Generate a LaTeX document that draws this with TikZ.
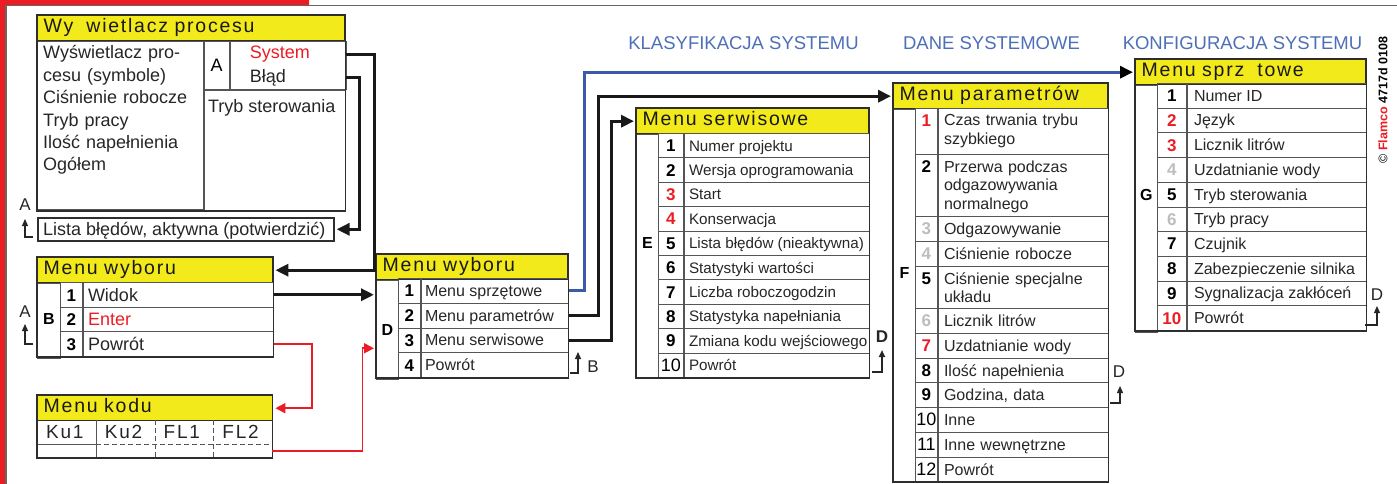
\documentclass[tikz,border=0pt]{standalone}
\usepackage{fontspec}
\setmainfont{Liberation Sans}
\newfontfamily\hdfont[LetterSpace=9]{Liberation Sans}
\usetikzlibrary{arrows.meta,positioning,calc}

\definecolor{hdyel}{HTML}{F3EA1B}
\definecolor{flred}{HTML}{EC1C24}
\definecolor{flblue}{HTML}{3B5BA9}
\definecolor{lblue}{HTML}{4D6FB6}
\definecolor{ngray}{HTML}{BDBDBD}
\definecolor{frmc}{HTML}{2E2E2E}
\definecolor{gridc}{HTML}{555555}

\tikzset{
  hd/.style={draw=frmc,line width=1.4pt,fill=hdyel,anchor=north west,inner xsep=6pt,inner ysep=0pt,
    minimum width=#1,text width={#1-12pt},align=left,minimum height=25pt,text height=13.5pt,text depth=4pt,
    font=\hdfont\fontsize{19.5}{20}\selectfont,text=black!90},
  cel/.style={draw=gridc,line width=0.8pt,anchor=north west,inner sep=0pt},
  box/.style={draw=frmc,line width=1.6pt},
  txt/.style={anchor=base west,inner sep=0pt,text=black!85,font=\fontsize{16}{18.5}\selectfont},
  big/.style={font=\fontsize{18}{22.4}\selectfont},
  nr/.style={anchor=base,inner sep=0pt,font=\bfseries\fontsize{17}{18}\selectfont},
  ltr/.style={inner sep=0pt,font=\bfseries\fontsize{16}{18}\selectfont},
  mk/.style={inner sep=0pt,font=\fontsize{17}{18}\selectfont,text=black!85},
  ret/.style={draw=black!85,line width=1.3pt,-{Triangle[length=7pt,width=6pt]}},
  conn/.style={draw=black!90,line width=3.2pt,-{Triangle[length=13pt,width=12pt]},shorten >=2pt},
  bconn/.style={draw=flblue,line width=3pt,-{Triangle[length=13pt,width=12pt,black]},shorten >=2pt},
  rconn/.style={draw=flred,line width=1.8pt,-{Triangle[length=10pt,width=10pt]},shorten >=2pt},
  lbl/.style={text=lblue,font=\fontsize{18.5}{20}\selectfont},
}

\begin{document}
\begin{tikzpicture}[x=1pt,y=-1pt]
\useasboundingbox (0,0) rectangle (1397,484);
\fill[flred] (0,0) rectangle (6,484) (0,0) rectangle (309,5);
\draw[gray!80!black,line width=1.2pt] (6,484) -- (6,5.5) -- (1397,5.5);

% process display
\node[hd=307pt] (pdh) at (37,15) {Wy\ \ wietlacz procesu};
\node[cel,minimum width=166pt,minimum height=168pt] (pdl) at (pdh.south west) {};
\node[cel,minimum width=25pt,minimum height=48pt,font=\fontsize{18}{20}\selectfont] (pda) at (pdl.north east) {A};
\node[cel,minimum width=116pt,minimum height=48pt] (pds) at (pda.north east) {};
\node[cel,minimum width=141pt,minimum height=120pt] (pdt) at (pda.south west) {};
\node[txt,big,text width=160pt,align=left] at ($(pdl.north west)+(6,17.5)$) {Wyświetlacz pro-\\cesu (symbole)\\Ciśnienie robocze\\Tryb pracy\\Ilość napełnienia\\Ogółem};
\node[txt,big,text=flred] (sys) at ($(pds.north west)+(20,17.5)$) {System};
\node[txt,big] (err) at ($(pds.north west)+(20,41)$) {Błąd};
\node[txt,big] at ($(pdt.north west)+(4,22)$) {Tryb sterowania};
\draw[box] (pdh.north west) rectangle (pdt.south east);

\node[cel,box,minimum width=296pt,minimum height=23pt] (lst) at (37,217) {};
\node[txt,big] at ($(lst.west)+(6,6.5)$) {Lista błędów, aktywna (potwierdzić)};

% menu wyboru (1)
\node[hd=235pt] (wah) at (37,257) {Menu wyboru};
\node[cel,minimum width=23pt,minimum height=74.1pt] (wab) at (wah.south west) {};
\foreach \lab [count=\i] in {Widok,\textcolor{flred}{Enter},Powrót}{
  \node[cel,minimum width=22pt,minimum height=24.7pt] (wan\i) at (60,{282+24.7*(\i-1)}) {};
  \node[cel,minimum width=190pt,minimum height=24.7pt] (wa\i) at (wan\i.north east) {};
  \node[nr] at ($(wan\i.center)+(0,6.5)$) {\i};
  \node[txt,big] at ($(wa\i.west)+(5,6.5)$) {\lab};
}
\node[ltr] at (wab.center |- wa2) {B};
\draw[box] (wah.north west) rectangle (wa3.south east);

% menu kodu
\node[hd=235pt] (kdh) at (37,395) {Menu kodu};
\foreach \lab [count=\i] in {Ku1,Ku2,FL1,FL2}{
  \node[anchor=north west,inner sep=0pt,minimum width=58.75pt,minimum height=24pt] (kd\i) at ({37+58.75*(\i-1)},420) {};
  \node[txt,font=\hdfont\fontsize{19}{20}\selectfont] at ($(kd\i.west)+(9,6.5)$) {\lab};
}
\node[anchor=north west,inner sep=0pt,minimum width=235pt,minimum height=13pt] (kr2) at (kd1.south west) {};
\draw[gridc,line width=.8pt] (kd1.north east) -- (kd1.north east |- kr2.south) (kd1.south west) -- (kd1.south east);
\draw[gridc,line width=.8pt,dash pattern=on 5pt off 3pt] (kd2.north east) -- (kd2.north east |- kr2.south)
  (kd3.north east) -- (kd3.north east |- kr2.south) (kd2.south west) -- (kd4.south east);
\draw[box] (kdh.north west) rectangle (kr2.south east);

% menu wyboru (2)
\node[hd=191pt] (wbh) at (376,254) {Menu wyboru};
\node[cel,minimum width=22pt,minimum height=99pt] (wbd) at (wbh.south west) {};
\foreach \lab [count=\i] in {Menu sprzętowe,Menu parametrów,Menu serwisowe,Powrót}{
  \node[cel,minimum width=22pt,minimum height=24.75pt] (wbn\i) at (398,{278+24.75*(\i-1)}) {};
  \node[cel,minimum width=147pt,minimum height=24.75pt] (wb\i) at (wbn\i.north east) {};
  \node[nr] at ($(wbn\i.center)+(0,6)$) {\i};
  \node[txt] at ($(wb\i.west)+(4,5.5)$) {\lab};
}
\node[ltr] at (wbd.center) {D};
\draw[box] (wbh.north west) rectangle (wb4.south east);

% menu serwisowe
\node[hd=232pt] (svh) at (636,108) {Menu serwisowe};
\node[cel,minimum width=22pt,minimum height=244pt] (sve) at (svh.south west) {};
\foreach \no/\cl/\lab [count=\i] in {1/black/Numer projektu, 2/black/Wersja oprogramowania, 3/flred/Start,
    4/flred/Konserwacja, 5/black/{Lista błędów (nieaktywna)}, 6/black/Statystyki wartości,
    7/black/Liczba roboczogodzin, 8/black/Statystyka napełniania, 9/black/Zmiana kodu wejściowego,
    {\mdseries\fontsize{18}{18}\selectfont 10}/black/Powrót}{
  \node[cel,minimum width=25pt,minimum height=24.4pt] (svn\i) at (658,{133+24.4*(\i-1)}) {};
  \node[cel,minimum width=185pt,minimum height=24.4pt] (sv\i) at (svn\i.north east) {};
  \node[nr,text=\cl] at ($(svn\i.center)+(0,6)$) {\no};
  \node[txt,font=\fontsize{15.2}{18}\selectfont] at ($(sv\i.west)+(5,5.5)$) {\lab};
}
\node[ltr] at (sve.center |- sv5) {E};
\draw[box] (svh.north west) rectangle (sv10.south east);

% menu parametrow
\node[hd=214pt] (pmh) at (893,83) {Menu parametrów};
\node[cel,minimum width=22pt,minimum height=373pt] (pmf) at (pmh.south west) {};
\foreach \y/\h/\no/\cl/\lab [count=\i] in {108/46/1/flred/{Czas trwania trybu\\szybkiego},
    154/62/2/black/{Przerwa podczas\\odgazowywania\\normalnego}, 216/25/3/ngray/Odgazowywanie,
    241/25/4/ngray/Ciśnienie robocze, 266/42/5/black/{Ciśnienie specjalne\\układu},
    308/25/6/ngray/Licznik litrów, 333/25/7/flred/Uzdatnianie wody, 358/24/8/black/Ilość napełnienia,
    382/25/9/black/{Godzina, data}, 407/25/{\mdseries\fontsize{18}{18}\selectfont 10}/black/Inne,
    432/25/{\mdseries\fontsize{18}{18}\selectfont 11}/black/Inne wewnętrzne,
    457/24/{\mdseries\fontsize{18}{18}\selectfont 12}/black/Powrót}{
  \node[cel,minimum width=22pt,minimum height=\h] (pmn\i) at (915,\y) {};
  \node[cel,minimum width=170pt,minimum height=\h] (pm\i) at (pmn\i.north east) {};
  \node[nr,text=\cl] at ($(pmn\i.north)+(0,18.5)$) {\no};
  \node[txt,text width=160pt,align=left] at ($(pm\i.north west)+(6,18)$) {\lab};
}
\node[ltr] at ($(pmf.center |- pm5.north)+(0,7)$) {F};
\draw[box] (pmh.north west) rectangle (pm12.south east);

% menu sprzetowe
\node[hd=230pt] (srh) at (1135,59) {Menu sprz\ \ towe};
\node[cel,minimum width=22pt,minimum height=247pt] (srg) at (srh.south west) {};
\foreach \no/\cl/\lab [count=\i] in {1/black/Numer ID, 2/flred/Język, 3/flred/Licznik litrów,
    4/ngray/Uzdatnianie wody, 5/black/Tryb sterowania, 6/ngray/Tryb pracy, 7/black/Czujnik,
    8/black/Zabezpieczenie silnika, 9/black/Sygnalizacja zakłóceń, 10/flred/Powrót}{
  \node[cel,minimum width=29pt,minimum height=24.7pt] (srn\i) at (1157,{83+24.7*(\i-1)}) {};
  \node[cel,minimum width=179pt,minimum height=24.7pt] (sr\i) at (srn\i.north east) {};
  \node[nr,text=\cl] at ($(srn\i.center)+(0,6)$) {\no};
  \node[txt] at ($(sr\i.west)+(7,5.5)$) {\lab};
}
\node[ltr] at (srg.center |- sr5) {G};
\draw[box] (srh.north west) rectangle (sr10.south east);

% group labels
\node[lbl] (cls) at (743.5,43) {KLASYFIKACJA SYSTEMU};
\node[lbl] (dat) at (991.5,43) {DANE SYSTEMOWE};
\node[lbl] (cfg) at (1242.5,43) {KONFIGURACJA SYSTEMU};
\node[rotate=90,inner sep=0pt,font=\bfseries\fontsize{12.5}{13}\selectfont] (cpy) at (1383,100)
  {{\mdseries ©} \textcolor{flred}{Flamco} 4717d 0108};

% return marks
\node[mk] (ra1) at (25,205) {A};
\draw[ret] (ra1.center) ++(8,32) -| ([yshift=-14pt]ra1.center);
\node[mk] (ra2) at (25,312) {A};
\draw[ret] (ra2.center) ++(8,32) -| ([yshift=-12pt]ra2.center);
\node[mk] (rb) at (593,367) {B};
\draw[ret] (rb.center) ++(-23,6) -| ([shift={(-15,-15)}]rb.center);
\node[mk,font=\bfseries\fontsize{17}{18}\selectfont] (rd1) at (882,337) {D};
\draw[ret,line width=2pt] (rd1.center) ++(-10,35) -| ([yshift=-13pt]rd1.center);
\node[mk] (rd2) at (1119,372) {D};
\draw[ret] (rd2.center) ++(-9,31) -| ([shift={(1,14)}]rd2.center);
\node[mk] (rd3) at (1377,295) {D};
\draw[ret] (rd3.center) ++(-12,30) -| ([yshift=-11pt]rd3.center);

% connectors
\draw[conn] (sys -| pds.east) -- ++(28,0) |- (wah.east);
\draw[conn] (err -| pds.east) -- ++(13,0) |- (lst.east);
\draw[conn] (wa1.east) -- (wa1.east -| wbd.west);
\draw[rconn] (wa3.east) -- ++(38,0) |- (kdh.east);
\draw[rconn] (kr2.east) -- ++(90,0) |- ($(wbd.west |- wb3.west)+(0,8)$);
\draw[bconn] (wb1.east) -- ++(16,0) |- (srh.west);
\draw[conn] (wb2.east) -- ++(30,0) |- (pmh.west);
\draw[conn] (wb3.east) -- ++(43,0) |- (svh.west);
\end{tikzpicture}
\end{document}
